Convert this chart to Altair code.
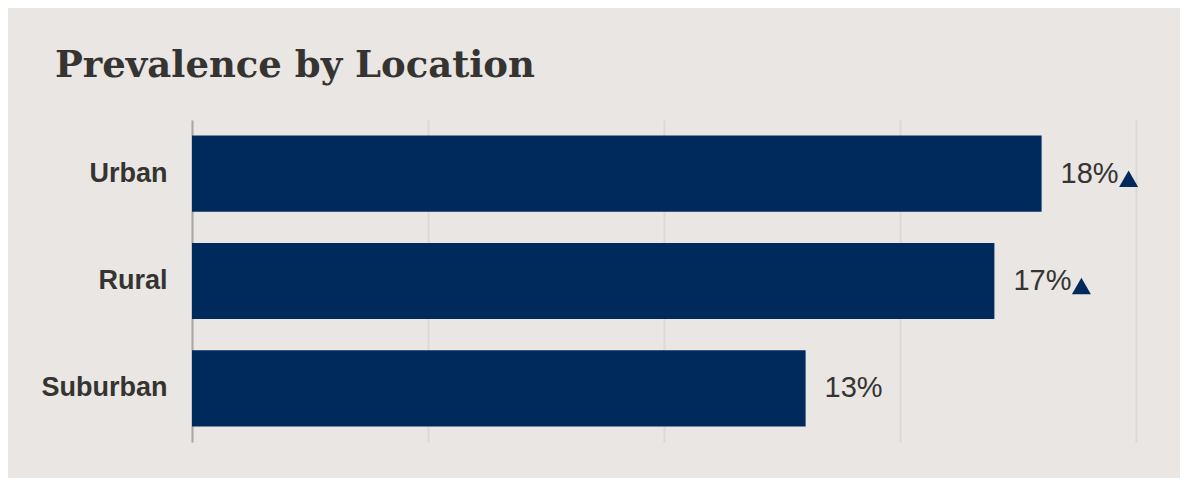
import altair as alt
import pandas as pd

locations = ["Urban", "Rural", "Suburban"]
values = [18, 17, 13]
labels = ["18%", "17%", "13%"]
increase = [True, True, False]

df = pd.DataFrame({"location": locations, "value": values, "label": labels, "up": increase})

NAVY = "#012a5c"
TEXT = "#353431"
BG = "#e9e6e3"

x_enc = alt.X("value:Q", scale=alt.Scale(domain=[0, 20]),
              axis=alt.Axis(values=[0, 5, 10, 15, 20], labels=False, ticks=False, domain=False,
                            grid=True, gridColor="#dddad6", gridWidth=2, title=None))
y_enc = alt.Y("location:N", sort=locations,
              scale=alt.Scale(paddingInner=0.29, paddingOuter=0.145),
              axis=alt.Axis(title=None, ticks=False, domain=True, domainColor="#a8a8a8", domainWidth=2,
                            labelFont="Liberation Sans", labelFontWeight="bold", labelFontSize=27,
                            labelColor=TEXT, labelPadding=25))

base = alt.Chart(df)
bars = base.mark_bar(color=NAVY).encode(x=x_enc, y=y_enc)
text = base.mark_text(align="left", baseline="middle", dx=19, font="Liberation Sans",
                      fontSize=29, color=TEXT).encode(x="value:Q", y=alt.Y("location:N", sort=locations), text="label:N")
tri = base.transform_filter("datum.up").mark_point(shape="triangle-up", filled=True, size=361, opacity=1,
                                                     color=NAVY, xOffset=87, yOffset=5).encode(
    x="value:Q", y=alt.Y("location:N", sort=locations))

chart = alt.layer(bars, text, tri).properties(
    width=944, height=322,
    title=alt.TitleParams("Prevalence by Location", anchor="start", frame="group", dx=-137, dy=35,
                          font="DejaVu Serif", fontSize=37, fontWeight="bold", color=TEXT,
                          baseline="alphabetic", offset=41),
    background=BG,
    padding={"left": 184, "top": 112, "right": 44, "bottom": 36},
    autosize=alt.AutoSizeParams(type="none"),
).configure_view(stroke=None)

chart.save("out.html", embed_options={"renderer": "svg", "actions": False})
